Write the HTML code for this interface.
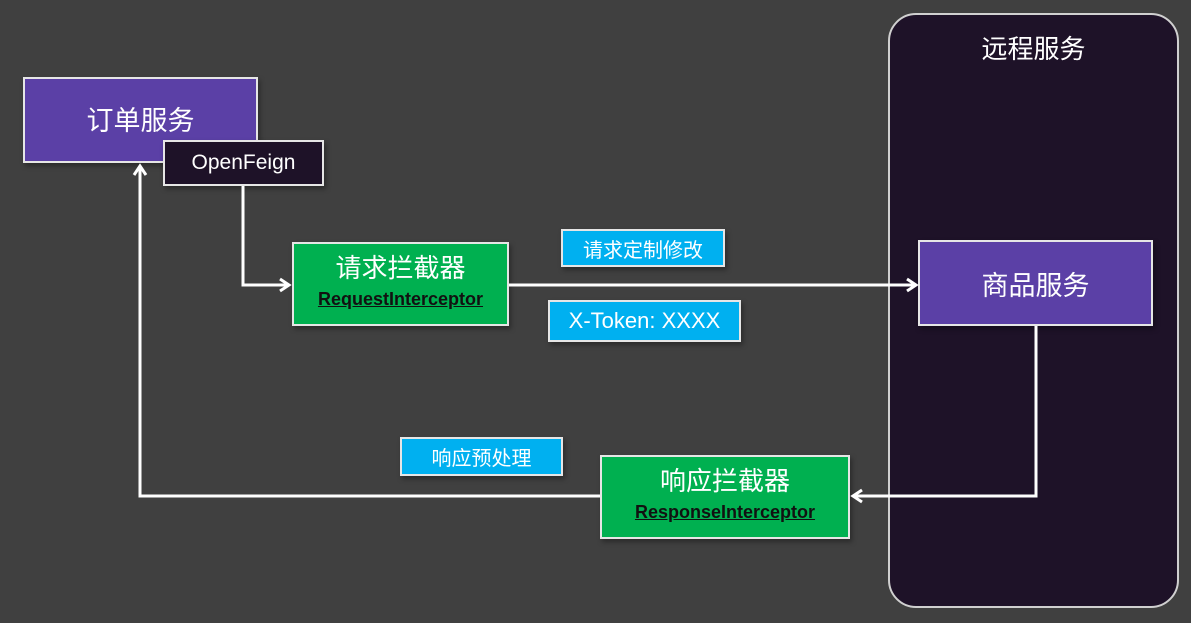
<!DOCTYPE html>
<html><head><meta charset="utf-8"><style>
body{margin:0;width:1191px;height:623px;background:#404040;position:relative;overflow:hidden;font-family:"Liberation Sans","Noto Sans CJK SC",sans-serif;color:#fff}
.b{position:absolute;box-sizing:border-box;border:2px solid #e6e6e6;display:flex;flex-direction:column;align-items:center;justify-content:center;text-align:center;box-shadow:2px 3px 5px rgba(0,0,0,.35)}
.p{background:#5b40a6;font-size:27px}
.g{background:#00b050;font-size:26px;line-height:31px}
.g span{font-size:18px;font-weight:bold;color:#111;text-decoration:underline}
.c{background:#00b0f0;font-size:20px}
</style></head><body>
<div style="position:absolute;left:888px;top:13px;width:291px;height:595px;box-sizing:border-box;border:2px solid #d0d0d0;border-radius:28px;background:#1e1228"></div>
<div style="position:absolute;left:888px;top:29px;width:291px;text-align:center;font-size:26px">远程服务</div>
<div class="b p" style="left:23px;top:77px;width:235px;height:86px;padding-bottom:4px">订单服务</div>
<div class="b" style="left:163px;top:140px;width:161px;height:46px;background:#1e1228;font-size:21px">OpenFeign</div>
<div class="b g" style="left:292px;top:242px;width:217px;height:84px">请求拦截器<span>RequestInterceptor</span></div>
<div class="b c" style="left:561px;top:229px;width:164px;height:38px">请求定制修改</div>
<div class="b c" style="left:548px;top:300px;width:193px;height:42px;font-size:22px">X-Token: XXXX</div>
<div class="b p" style="left:918px;top:240px;width:235px;height:86px">商品服务</div>
<div class="b c" style="left:400px;top:437px;width:163px;height:39px">响应预处理</div>
<div class="b g" style="left:600px;top:455px;width:250px;height:84px">响应拦截器<span>ResponseInterceptor</span></div>
<svg width="1191" height="623" style="position:absolute;left:0;top:0" fill="none" stroke="#fff" stroke-width="3">
<polyline points="243,186 243,285 288,285"/><polyline points="280,279 289,285 280,291"/>
<polyline points="509,285 915,285"/><polyline points="907,279 916,285 907,291"/>
<polyline points="1036,326 1036,496 854,496"/><polyline points="862,490 853,496 862,502"/>
<polyline points="600,496 140,496 140,167"/><polyline points="134,175 140,166 146,175"/>
</svg>
</body></html>
